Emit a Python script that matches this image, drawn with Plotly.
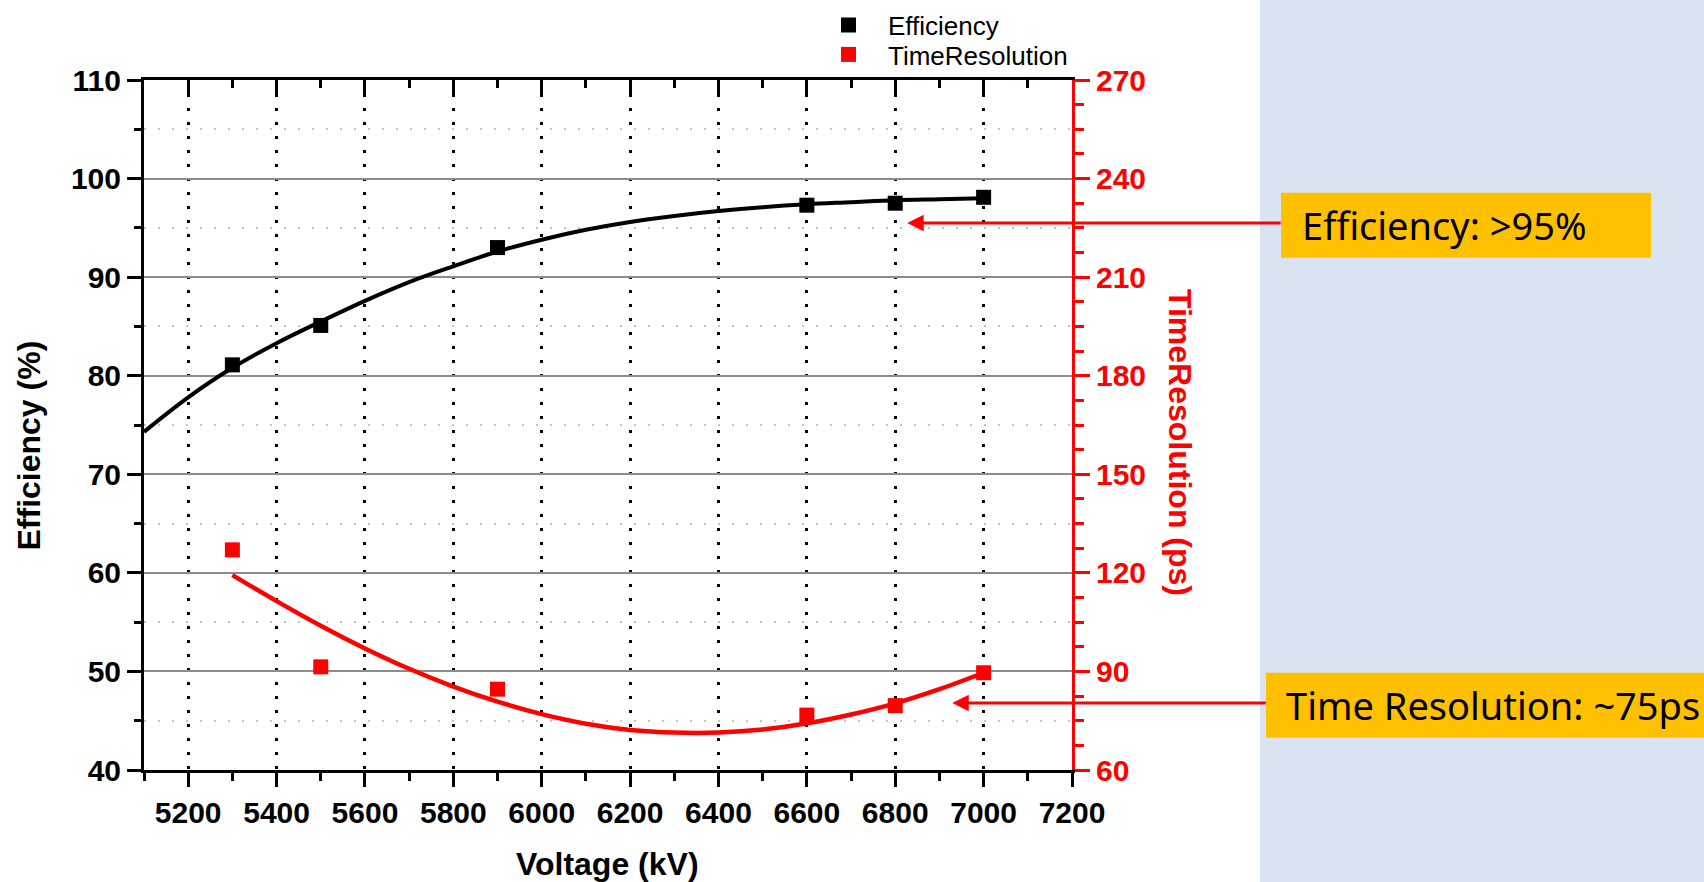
import plotly.graph_objects as go

# ---- measured data ----
voltage = [5300, 5500, 5900, 6600, 6800, 7000]
efficiency = [81.1, 85.1, 93.0, 97.3, 97.5, 98.1]
time_resolution = [127.0, 91.4, 84.6, 76.7, 79.6, 89.6]

# ---- fitted curves (sampled every 100 kV) ----
eff_fit_voltage = [5100, 5200, 5300, 5400, 5500, 5600, 5700, 5800, 5900, 6000,
                   6100, 6200, 6300, 6400, 6500, 6600, 6700, 6800, 6900, 7000]
eff_fit = [74.3, 77.8, 80.8, 83.3, 85.5, 87.6, 89.5, 91.1, 92.6, 93.8,
           94.8, 95.6, 96.2, 96.7, 97.1, 97.4, 97.6, 97.8, 97.9, 98.0]

time_fit_voltage = [5300, 5400, 5500, 5600, 5700, 5800, 5900, 6000, 6100,
                    6200, 6300, 6400, 6500, 6600, 6700, 6800, 6900, 7000]
time_fit = [119.3, 111.4, 103.9, 97.0, 90.8, 85.4, 80.8, 77.0, 74.1,
            72.2, 71.4, 71.4, 72.3, 74.2, 76.9, 80.3, 84.6, 89.6]

# arrow targets (voltage, efficiency-axis value)
eff_arrow_tip = (6827, 95.5)
time_arrow_tip = (6929, 46.8)

# ---- page geometry ----
W, H = 1704, 882
ML, MR, MT, MB = 144, 632, 80, 112
PW, PH = W - ML - MR, H - MT - MB


def px_x(px):
    return (px - ML) / PW


def px_y(py):
    return (H - MB - py) / PH


RED = "#FF0000"
SANS = "Liberation Sans, Arial, sans-serif"
BOX_FONT = "Noto Sans, sans-serif"

fig = go.Figure()

fig.add_trace(go.Scatter(
    x=eff_fit_voltage, y=eff_fit, mode="lines", line=dict(color="black", width=4, shape="spline"),
    showlegend=False, hoverinfo="skip"))
fig.add_trace(go.Scatter(
    x=time_fit_voltage, y=time_fit, yaxis="y2", mode="lines",
    line=dict(color=RED, width=4.5, shape="spline"), showlegend=False, hoverinfo="skip"))
fig.add_trace(go.Scatter(
    x=voltage, y=efficiency, mode="markers", name="Efficiency", legend="legend",
    marker=dict(symbol="square", size=15, color="black")))
fig.add_trace(go.Scatter(
    x=voltage, y=time_resolution, yaxis="y2", mode="markers", name="TimeResolution",
    legend="legend2", marker=dict(symbol="square", size=15, color=RED)))
# empty trace that carries the top (mirror) axis
fig.add_trace(go.Scatter(x=[], y=[], xaxis="x2", showlegend=False, hoverinfo="skip"))

tickfont = dict(family=SANS, size=30, color="black", weight="bold")
legend_common = dict(
    xanchor="left", yanchor="middle",
    font=dict(family=SANS, size=26, color="black"),
    itemwidth=69, bgcolor="rgba(0,0,0,0)", borderwidth=0,
)

fig.update_layout(
    width=W, height=H,
    margin=dict(l=ML, r=MR, t=MT, b=MB, pad=0, autoexpand=False),
    paper_bgcolor="white", plot_bgcolor="white",
    xaxis=dict(
        range=[5100, 7200], dtick=200, tick0=5200,
        showline=True, linecolor="black", linewidth=3,
        ticks="outside", ticklen=14, tickwidth=3, tickcolor="black",
        tickfont=tickfont,
        showgrid=True, gridcolor="black", gridwidth=3, griddash="3px,11px",
        minor=dict(dtick=100, tick0=5100, ticks="outside", ticklen=8, tickwidth=3,
                   tickcolor="black", showgrid=False),
        zeroline=False,
    ),
    xaxis2=dict(
        overlaying="x", side="top", anchor="y", matches="x",
        range=[5100, 7200], dtick=200, tick0=5200,
        showline=True, linecolor="black", linewidth=3,
        ticks="inside", ticklen=14, tickwidth=3, tickcolor="black",
        showticklabels=False, showgrid=False, zeroline=False,
        minor=dict(dtick=100, tick0=5100, ticks="inside", ticklen=8, tickwidth=3,
                   tickcolor="black", showgrid=False),
    ),
    yaxis=dict(
        range=[40, 110], dtick=10, tick0=40,
        showline=True, linecolor="black", linewidth=3,
        ticks="outside", ticklen=14, tickwidth=3, tickcolor="black",
        tickfont=tickfont,
        showgrid=True, gridcolor="#8c8c8c", gridwidth=2,
        minor=dict(dtick=5, tick0=40, ticks="outside", ticklen=7, tickwidth=3,
                   tickcolor="black", showgrid=True, gridcolor="#c4c4c4",
                   gridwidth=2, griddash="2px,12px"),
        zeroline=False,
    ),
    yaxis2=dict(
        overlaying="y", side="right", anchor="x",
        range=[60, 270], dtick=30, tick0=60,
        showline=True, linecolor=RED, linewidth=3,
        ticks="outside", ticklen=15, tickwidth=3, tickcolor=RED,
        tickfont=dict(family=SANS, size=30, color=RED, weight="bold"),
        showgrid=False, zeroline=False,
        minor=dict(dtick=7.5, tick0=60, ticks="outside", ticklen=9, tickwidth=3,
                   tickcolor=RED, showgrid=False),
    ),
    legend=dict(x=px_x(809), y=px_y(25), **legend_common),
    legend2=dict(x=px_x(809), y=px_y(54.5), **legend_common),
    showlegend=True,
)

# side panel and call-out boxes
fig.add_shape(type="rect", xref="paper", yref="paper", layer="below",
              x0=px_x(1260), x1=px_x(W + 5), y0=px_y(H + 5), y1=px_y(-5),
              fillcolor="#DAE3F1", line=dict(width=0))
fig.add_shape(type="rect", xref="paper", yref="paper",
              x0=px_x(1281), x1=px_x(1651), y0=px_y(257.7), y1=px_y(192.7),
              fillcolor="#FFC000", line=dict(width=0))
fig.add_shape(type="rect", xref="paper", yref="paper",
              x0=px_x(1266), x1=px_x(W + 5), y0=px_y(737.7), y1=px_y(672.7),
              fillcolor="#FFC000", line=dict(width=0))

title_font = dict(family=SANS, size=32, weight="bold")
annotations = [
    # axis titles
    dict(text="Efficiency (%)", xref="paper", yref="paper", x=px_x(28.5), y=px_y(446),
         textangle=-90, showarrow=False, xanchor="center", yanchor="middle",
         font=dict(color="black", **title_font)),
    dict(text="TimeResolution (ps)", xref="paper", yref="paper", x=px_x(1180), y=px_y(442),
         textangle=90, showarrow=False, xanchor="center", yanchor="middle",
         font=dict(color=RED, **title_font)),
    dict(text="Voltage (kV)", xref="paper", yref="paper", x=px_x(607), y=px_y(864),
         showarrow=False, xanchor="center", yanchor="middle",
         font=dict(color="black", **title_font)),
    # call-out texts
    dict(text="Efficiency: >95%", xref="paper", yref="paper", x=px_x(1300), y=px_y(225),
         showarrow=False, xanchor="left", yanchor="middle",
         font=dict(family=BOX_FONT, size=38, color="black")),
    dict(text="Time Resolution: ~75ps", xref="paper", yref="paper", x=px_x(1284), y=px_y(705),
         showarrow=False, xanchor="left", yanchor="middle",
         font=dict(family=BOX_FONT, size=38, color="black")),
    # arrows
    dict(text="", x=eff_arrow_tip[0], y=eff_arrow_tip[1], xref="x", yref="y",
         ax=1281 - 906, ay=0, showarrow=True, arrowhead=2, arrowsize=1.1,
         arrowwidth=3, arrowcolor=RED, standoff=0, startstandoff=0),
    dict(text="", x=time_arrow_tip[0], y=time_arrow_tip[1], xref="x", yref="y",
         ax=1266 - 951, ay=0, showarrow=True, arrowhead=2, arrowsize=1.1,
         arrowwidth=3, arrowcolor=RED, standoff=0, startstandoff=0),
]
fig.update_layout(annotations=annotations)

fig.write_html("out.html")
